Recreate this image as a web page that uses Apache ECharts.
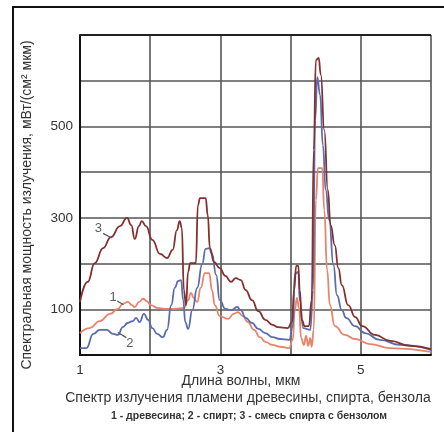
<!DOCTYPE html>
<html>
<head>
<meta charset="utf-8">
<script src="https://cdn.jsdelivr.net/npm/echarts@6/dist/echarts.min.js"></script>
<style>
html,body{margin:0;padding:0;background:#fff;}
#c{width:444px;height:432px;}
</style>
</head>
<body>
<div id="c"></div>
<script>
// ---- data (wavelength µm, spectral power) ----
var xTickLabels = [1, 3, 5];
var yTickLabels = [100, 300, 500];

// 1 - древесина
var wood = [
[1.00,48],[1.14,59],[1.28,74],[1.43,90],[1.54,101],[1.61,112],[1.68,116],[1.74,109],[1.78,105],
[1.84,116],[1.90,123],[1.95,118],[2.01,109],[2.10,103],[2.21,101],[2.35,101],[2.48,103],[2.54,120],
[2.58,136],[2.62,125],[2.67,116],[2.72,147],[2.78,179],[2.84,179],[2.88,142],[2.92,109],[2.99,85],
[3.11,79],[3.19,90],[3.25,94],[3.32,85],[3.39,72],[3.48,55],[3.56,39],[3.65,28],[3.74,22],[3.85,18],
[3.98,15],[4.03,33],[4.06,98],[4.09,125],[4.12,103],[4.15,37],[4.19,22],[4.22,42],[4.25,20],[4.28,37],
[4.30,18],[4.33,55],[4.36,339],[4.39,409],[4.45,409],[4.48,317],[4.52,186],[4.56,109],[4.63,63],
[4.77,44],[4.92,35],[5.13,24],[5.42,15],[6.00,7]
];
// 2 - спирт
var alcohol = [
[1.00,15],[1.09,15],[1.19,46],[1.28,55],[1.38,55],[1.47,46],[1.54,44],[1.61,61],[1.68,70],[1.75,74],
[1.80,81],[1.85,72],[1.91,90],[1.97,77],[2.03,59],[2.10,46],[2.18,39],[2.24,55],[2.30,109],[2.35,147],
[2.40,162],[2.44,164],[2.47,120],[2.50,72],[2.54,57],[2.60,98],[2.67,147],[2.74,199],[2.79,232],
[2.84,234],[2.88,221],[2.94,175],[2.99,120],[3.07,101],[3.15,98],[3.24,105],[3.29,98],[3.36,81],
[3.45,70],[3.54,57],[3.64,48],[3.74,39],[3.85,35],[3.98,33],[4.03,61],[4.06,177],[4.11,182],[4.13,120],
[4.18,59],[4.28,55],[4.32,142],[4.35,514],[4.38,608],[4.42,569],[4.46,459],[4.50,361],[4.55,295],
[4.61,197],[4.66,131],[4.73,98],[4.79,81],[4.92,63],[5.06,48],[5.27,33],[5.56,22],[6.00,11]
];
// 3 - смесь спирта с бензолом
var mixture = [
[1.00,116],[1.11,160],[1.21,201],[1.33,234],[1.44,258],[1.57,282],[1.67,300],[1.73,284],[1.78,254],
[1.84,282],[1.88,293],[1.94,282],[2.03,252],[2.14,221],[2.24,212],[2.32,230],[2.38,273],[2.42,293],
[2.45,278],[2.48,142],[2.51,109],[2.54,182],[2.57,201],[2.65,201],[2.68,328],[2.71,343],[2.79,343],
[2.82,306],[2.85,234],[2.91,203],[2.99,190],[3.07,173],[3.15,160],[3.22,168],[3.29,164],[3.36,142],
[3.45,120],[3.54,96],[3.64,77],[3.74,66],[3.82,61],[3.96,59],[4.02,72],[4.05,142],[4.08,195],[4.11,195],
[4.13,142],[4.16,77],[4.20,63],[4.26,63],[4.30,120],[4.33,449],[4.36,645],[4.40,650],[4.43,613],
[4.48,492],[4.53,361],[4.57,284],[4.63,240],[4.68,190],[4.73,153],[4.82,109],[4.92,83],[5.02,63],
[5.20,44],[5.42,31],[5.70,20],[6.00,13]
];

// curve number labels: [text, textX, textY, leaderFromX, leaderFromY, leaderToX, leaderToY]
var curveLabels = [
['3', 1.26, 276, 1.33, 266, 1.45, 256],
['1', 1.47, 127, 1.53, 118, 1.62, 110],
['2', 1.71, 26, 1.66, 38, 1.54, 49]
];

var seriesNames = ['древесина', 'спирт', 'смесь спирта с бензолом'];
var colors = ['#e8846a', '#5a6cae', '#83302f'];

var chart = echarts.init(document.getElementById('c'), null, {renderer:'canvas'});
var FONT = 'Liberation Sans, Arial, sans-serif';

var series = [];
[wood, alcohol, mixture].forEach(function(d, i){
  series.push({
    name: seriesNames[i], type:'line', data:d, showSymbol:false, symbol:'none',
    smooth:0.5, smoothMonotone:'x',
    lineStyle:{color:colors[i], width:1.8}, z: 3+i, silent:true
  });
});
curveLabels.forEach(function(l){
  series.push({
    type:'line', data:[[l[3],l[4]],[l[5],l[6]]], symbol:'none', silent:true,
    lineStyle:{color:'#555', width:1.2}, z:7
  });
  series.push({
    type:'scatter', data:[[l[1],l[2]]], symbolSize:0, silent:true, z:8,
    label:{show:true, position:'inside', formatter:l[0], color:'#333', fontSize:13, fontFamily:FONT}
  });
});

chart.setOption({
  animation:false,
  grid:{left:80, right:13, top:35, bottom:77},
  xAxis:{
    type:'value', min:1, max:6, interval:1,
    axisLine:{show:true, lineStyle:{color:'#111', width:2}},
    axisTick:{show:false},
    axisLabel:{margin:8, color:'#333', fontSize:13.5, fontFamily:FONT,
      formatter:function(v){ return xTickLabels.indexOf(v) >= 0 ? String(v) : ''; }},
    splitLine:{show:true, lineStyle:{color:'#555', width:1.6}}
  },
  yAxis:{
    type:'value', min:0, max:700, interval:100,
    axisLine:{show:true, lineStyle:{color:'#111', width:2}},
    axisTick:{show:false},
    axisLabel:{margin:7, color:'#333', fontSize:13.5, fontFamily:FONT,
      formatter:function(v){ return yTickLabels.indexOf(v) >= 0 ? String(v) : ''; }},
    splitLine:{show:true, lineStyle:{color:'#555', width:1.6}}
  },
  graphic:[
    {type:'rect', shape:{x:13, y:7, width:445, height:440}, style:{fill:null, stroke:'#111', lineWidth:2}, silent:true},
    {type:'line', shape:{x1:80, y1:35, x2:431, y2:35}, style:{stroke:'#222', lineWidth:2}, silent:true, z:10},
    {type:'text', x:27, y:205, rotation:Math.PI/2,
      style:{text:'Спектральная мощность излучения, мВт/(см² мкм)', font:'14px '+FONT, fill:'#333', align:'center', verticalAlign:'middle'}},
    {type:'text', x:241, y:381,
      style:{text:'Длина волны, мкм', font:'14px '+FONT, fill:'#333', align:'center', verticalAlign:'middle'}},
    {type:'text', x:248, y:398,
      style:{text:'Спектр излучения пламени древесины, спирта, бензола', font:'14px '+FONT, fill:'#333', align:'center', verticalAlign:'middle'}},
    {type:'text', x:249, y:416,
      style:{text:'1 - древесина; 2 - спирт; 3 - смесь спирта с бензолом', font:'bold 10.5px '+FONT, fill:'#333', align:'center', verticalAlign:'middle'}}
  ],
  series:series
});
</script>
</body>
</html>
